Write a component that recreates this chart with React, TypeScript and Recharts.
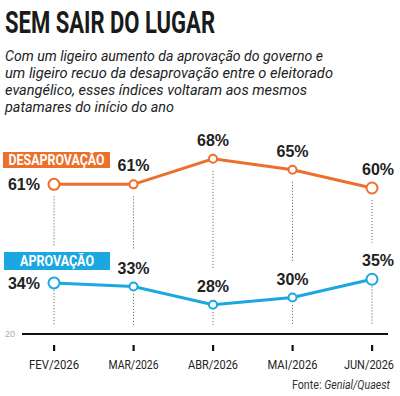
import React from 'react';
import { LineChart, Line, XAxis, YAxis, ReferenceLine, LabelList } from 'recharts';

const months = ['FEV/2026', 'MAR/2026', 'ABR/2026', 'MAI/2026', 'JUN/2026'];
const desaprovacao = [61, 61, 68, 65, 60];
const aprovacao = [34, 33, 28, 30, 35];
const yTicks = [20];

const title = 'SEM SAIR DO LUGAR';
const subtitleLines = [
  'Com um ligeiro aumento da aprovação do governo e',
  'um ligeiro recuo da desaprovação entre o eleitorado',
  'evangélico, esses índices voltaram aos mesmos',
  'patamares do início do ano',
];
const subtitleWidths = [318, 328, 302, 169];

const ORANGE = '#ec6f2b';
const BLUE = '#1ba7e1';
const TEXT = '#222222';
const NARROW = '"Liberation Sans Narrow", "Arial Narrow", Roboto, sans-serif';
const SANS = '"Liberation Sans", Arial, sans-serif';

const data = months.map((m, i) => ({ month: m, desap: desaprovacao[i], aprov: aprovacao[i] }));

const makeDot = (color: string) => (props: any) => {
  const { cx, cy, index } = props;
  const last = months.length - 1;
  const big = index === 0 || index === last;
  return (
    <circle key={`dot-${index}`} cx={cx} cy={cy} r={big ? 5.5 : 4} fill="#fff" stroke={color} strokeWidth={2} />
  );
};

const makeLabel = () => (props: any) => {
  const { x, y, value, index } = props;
  const last = months.length - 1;
  if (index === 0) {
    return (
      <text key={`l-${index}`} x={x - 14} y={y + 6} textAnchor="end" fontFamily={SANS} fontWeight={700} fontSize={16} fill={TEXT}>
        {`${value}%`}
      </text>
    );
  }
  return (
    <text key={`l-${index}`} x={x + (index === last ? 6 : 0)} y={y - 13} textAnchor="middle" fontFamily={SANS} fontWeight={700} fontSize={16} fill={TEXT}>
      {`${value}%`}
    </text>
  );
};

const XTick = (props: any) => {
  const { x, y, payload, index } = props;
  const shift = index === months.length - 1 ? -3 : 0;
  return (
    <g>
      <rect x={x - 1} y={y + 3} width={2.2} height={6} fill="#111" />
      <text x={x + shift} y={y + 27} textAnchor="middle" fontFamily={NARROW} fontSize={13.5} fill={TEXT} textLength={50} lengthAdjust="spacingAndGlyphs">
        {payload.value}
      </text>
    </g>
  );
};

const YTick = (props: any) => {
  const { y, payload } = props;
  return (
    <text x={15} y={y + 3} textAnchor="end" fontFamily={SANS} fontSize={9} fill="#aaa">
      {payload.value}
    </text>
  );
};

export default function App() {
  return (
    <div style={{ position: 'absolute', left: 0, top: 0, width: 400, height: 396, background: '#fff', overflow: 'hidden' }}>
      <LineChart
        width={400}
        height={396}
        data={data}
        margin={{ top: 151.5, right: 12, bottom: 0, left: 0 }}
      >
        <XAxis
          dataKey="month"
          axisLine={{ stroke: '#111', strokeWidth: 2 }}
          tickLine={false}
          tick={<XTick />}
          padding={{ left: 32, right: 16 }}
          height={62}
          interval={0}
        />
        <YAxis
          domain={[20, 70]}
          ticks={yTicks}
          width={22}
          axisLine={false}
          tickLine={false}
          tick={<YTick />}
        />
        {data.map((d) => (
          <ReferenceLine
            key={`t-${d.month}`}
            segment={[{ x: d.month, y: d.desap - 3.3 }, { x: d.month, y: d.aprov + 10 }]}
            stroke="#555"
            strokeWidth={1}
            strokeDasharray="1 2"
          />
        ))}
        {data.map((d) => (
          <ReferenceLine
            key={`b-${d.month}`}
            segment={[{ x: d.month, y: d.aprov - 2 }, { x: d.month, y: 22.5 }]}
            stroke="#555"
            strokeWidth={1}
            strokeDasharray="1 2"
          />
        ))}
        <Line
          type="linear"
          dataKey="desap"
          stroke={ORANGE}
          strokeWidth={3}
          dot={makeDot(ORANGE)}
          isAnimationActive={false}
        >
          <LabelList dataKey="desap" content={makeLabel()} />
        </Line>
        <Line
          type="linear"
          dataKey="aprov"
          stroke={BLUE}
          strokeWidth={3}
          dot={makeDot(BLUE)}
          isAnimationActive={false}
        >
          <LabelList dataKey="aprov" content={makeLabel()} />
        </Line>
      </LineChart>
      <svg width={400} height={396} style={{ position: 'absolute', left: 0, top: 0, pointerEvents: 'none' }}>
        <text x={5} y={33} fontFamily={NARROW} fontWeight={700} fontSize={32} fill="#1a1a1a" textLength={210} lengthAdjust="spacingAndGlyphs">
          {title}
        </text>
        {subtitleLines.map((line, i) => (
          <text
            key={i}
            x={5}
            y={61 + i * 16.9}
            fontFamily={NARROW}
            fontStyle="italic"
            fontSize={15.5}
            fill={TEXT}
            textLength={subtitleWidths[i]}
            lengthAdjust="spacingAndGlyphs"
          >
            {line}
          </text>
        ))}
        <rect x={3} y={152} width={107} height={16} fill={ORANGE} />
        <text x={56.5} y={165} textAnchor="middle" fontFamily={NARROW} fontWeight={700} fontSize={14} fill="#fff" textLength={96} lengthAdjust="spacingAndGlyphs">
          DESAPROVAÇÃO
        </text>
        <rect x={4} y={252} width={106} height={18} fill={BLUE} />
        <text x={57} y={266} textAnchor="middle" fontFamily={NARROW} fontWeight={700} fontSize={14} fill="#fff" textLength={74} lengthAdjust="spacingAndGlyphs">
          APROVAÇÃO
        </text>
        <text x={390} y={389} textAnchor="end" fontFamily={NARROW} fontSize={12.5} fill="#333" textLength={98} lengthAdjust="spacingAndGlyphs">
          Fonte: <tspan fontStyle="italic">Genial/Quaest</tspan>
        </text>
      </svg>
    </div>
  );
}
